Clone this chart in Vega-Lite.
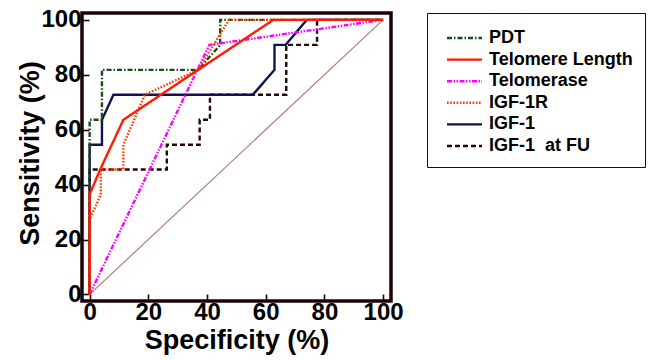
{
  "$schema": "https://vega.github.io/schema/vega-lite/v6.json",
  "autosize": {"type": "none"},
  "width": 309,
  "height": 288,
  "padding": {"left": 82, "top": 13, "right": 265, "bottom": 59},
  "background": "white",
  "config": {
    "view": {"stroke": "#1e0303", "strokeWidth": 3.5},
    "font": "Liberation Sans",
    "axis": {
      "domain": false,
      "grid": false,
      "labelFont": "Liberation Sans",
      "labelFontWeight": "bold",
      "labelFontSize": 24,
      "labelColor": "#000000",
      "titleFont": "Liberation Sans",
      "titleFontWeight": "bold",
      "titleFontSize": 27,
      "titleColor": "#000000",
      "tickColor": "#1a0000",
      "tickWidth": 1.6,
      "labelFlush": false,
      "labelOverlap": false
    },
    "legend": {
      "labelFont": "Liberation Sans",
      "labelFontWeight": "bold",
      "labelFontSize": 18,
      "labelColor": "#000000"
    }
  },
  "datasets": {
    "roc": [
      {"series": "IGF-1\u00a0 at FU", "i": 1, "spec": 0, "sens": 0},
      {"series": "IGF-1\u00a0 at FU", "i": 2, "spec": 0, "sens": 45.5},
      {"series": "IGF-1\u00a0 at FU", "i": 3, "spec": 26.3, "sens": 45.5},
      {"series": "IGF-1\u00a0 at FU", "i": 4, "spec": 26.3, "sens": 54.5},
      {"series": "IGF-1\u00a0 at FU", "i": 5, "spec": 37.5, "sens": 54.5},
      {"series": "IGF-1\u00a0 at FU", "i": 6, "spec": 37.5, "sens": 63.6},
      {"series": "IGF-1\u00a0 at FU", "i": 7, "spec": 41, "sens": 63.6},
      {"series": "IGF-1\u00a0 at FU", "i": 8, "spec": 41, "sens": 72.7},
      {"series": "IGF-1\u00a0 at FU", "i": 9, "spec": 67, "sens": 72.7},
      {"series": "IGF-1\u00a0 at FU", "i": 10, "spec": 67, "sens": 90.9},
      {"series": "IGF-1\u00a0 at FU", "i": 11, "spec": 77.5, "sens": 90.9},
      {"series": "IGF-1\u00a0 at FU", "i": 12, "spec": 77.5, "sens": 100},
      {"series": "IGF-1\u00a0 at FU", "i": 13, "spec": 100, "sens": 100},
      {"series": "IGF-1", "i": 1, "spec": 0, "sens": 0},
      {"series": "IGF-1", "i": 2, "spec": 0, "sens": 54.5},
      {"series": "IGF-1", "i": 3, "spec": 4.2, "sens": 54.5},
      {"series": "IGF-1", "i": 4, "spec": 4.2, "sens": 63.6},
      {"series": "IGF-1", "i": 5, "spec": 8.1, "sens": 72.7},
      {"series": "IGF-1", "i": 6, "spec": 55.6, "sens": 72.7},
      {"series": "IGF-1", "i": 7, "spec": 63, "sens": 81.8},
      {"series": "IGF-1", "i": 8, "spec": 63, "sens": 90.9},
      {"series": "IGF-1", "i": 9, "spec": 66.8, "sens": 90.9},
      {"series": "IGF-1", "i": 10, "spec": 74, "sens": 100},
      {"series": "IGF-1", "i": 11, "spec": 100, "sens": 100},
      {"series": "PDT", "i": 1, "spec": 0, "sens": 0},
      {"series": "PDT", "i": 2, "spec": 0, "sens": 63.6},
      {"series": "PDT", "i": 3, "spec": 4.2, "sens": 63.6},
      {"series": "PDT", "i": 4, "spec": 4.2, "sens": 81.8},
      {"series": "PDT", "i": 5, "spec": 37, "sens": 81.8},
      {"series": "PDT", "i": 6, "spec": 44.5, "sens": 90.9},
      {"series": "PDT", "i": 7, "spec": 44.5, "sens": 100},
      {"series": "PDT", "i": 8, "spec": 100, "sens": 100},
      {"series": "Telomerase", "i": 1, "spec": 0, "sens": 0},
      {"series": "Telomerase", "i": 2, "spec": 40.8, "sens": 90.9},
      {"series": "Telomerase", "i": 3, "spec": 100, "sens": 100},
      {"series": "IGF-1R", "i": 1, "spec": 0, "sens": 0},
      {"series": "IGF-1R", "i": 2, "spec": 0, "sens": 27.3},
      {"series": "IGF-1R", "i": 3, "spec": 3.8, "sens": 36.4},
      {"series": "IGF-1R", "i": 4, "spec": 3.8, "sens": 45.5},
      {"series": "IGF-1R", "i": 5, "spec": 11.5, "sens": 45.5},
      {"series": "IGF-1R", "i": 6, "spec": 11.5, "sens": 54.5},
      {"series": "IGF-1R", "i": 7, "spec": 18.8, "sens": 72.7},
      {"series": "IGF-1R", "i": 8, "spec": 37, "sens": 81.8},
      {"series": "IGF-1R", "i": 9, "spec": 47.5, "sens": 100},
      {"series": "IGF-1R", "i": 10, "spec": 100, "sens": 100},
      {"series": "Telomere Length", "i": 1, "spec": 0, "sens": 0},
      {"series": "Telomere Length", "i": 2, "spec": 0, "sens": 36.4},
      {"series": "Telomere Length", "i": 3, "spec": 3.6, "sens": 45.5},
      {"series": "Telomere Length", "i": 4, "spec": 11.5, "sens": 63.6},
      {"series": "Telomere Length", "i": 5, "spec": 37, "sens": 81.8},
      {"series": "Telomere Length", "i": 6, "spec": 62.6, "sens": 100},
      {"series": "Telomere Length", "i": 7, "spec": 100, "sens": 100}
    ],
    "ref": [
      {"spec": 0, "sens": 0},
      {"spec": 100, "sens": 100}
    ]
  },
  "layer": [
    {
      "data": {"name": "ref"},
      "mark": {"type": "line", "color": "#b87a72", "strokeWidth": 1.2},
      "encoding": {
        "x": {"field": "spec", "type": "quantitative"},
        "y": {"field": "sens", "type": "quantitative"}
      }
    },
    {
      "data": {"name": "roc"},
      "mark": {"type": "line", "strokeWidth": 2.4},
      "encoding": {
        "x": {
          "field": "spec",
          "type": "quantitative",
          "scale": {"domain": [-2.6, 102.7], "nice": false, "zero": false},
          "axis": {
            "values": [0,5,10,15,20,25,30,35,40,45,50,55,60,65,70,75,80,85,90,95,100],
            "labelExpr": "datum.value % 20 === 0 ? datum.label : ''",
            "tickSize": {"condition": {"test": "datum.value % 20 === 0", "value": -7}, "value": -4},
            "labelPadding": 6,
            "title": "Specificity (%)",
            "titleX": 154.5,
            "titleY": 39,
            "titleBaseline": "middle",
            "titleAnchor": "middle",
            "titleAlign": "center"
          }
        },
        "y": {
          "field": "sens",
          "type": "quantitative",
          "scale": {"domain": [-2.4, 102.5], "nice": false, "zero": false},
          "axis": {
            "values": [0,5,10,15,20,25,30,35,40,45,50,55,60,65,70,75,80,85,90,95,100],
            "labelExpr": "datum.value % 20 === 0 ? datum.label : ''",
            "tickSize": {"condition": {"test": "datum.value % 20 === 0", "value": -7}, "value": -4},
            "labelPadding": 8,
            "title": "Sensitivity (%)",
            "titleX": -52,
            "titleY": 140,
            "titleAngle": -90,
            "titleBaseline": "middle",
            "titleAlign": "center",
            "titleAnchor": "middle"
          }
        },
        "order": {"field": "i", "type": "quantitative"},
        "color": {
          "field": "series",
          "type": "nominal",
          "scale": {
            "domain": ["PDT", "Telomere Length", "Telomerase", "IGF-1R", "IGF-1", "IGF-1\u00a0 at FU"],
            "range": ["#1c4a1c", "#ff1a00", "#ff00ff", "#ff3b00", "#0f1450", "#2a0808"]
          },
          "legend": {
            "title": " ",
            "titleOrient": "top",
            "titleFontSize": 2,
            "titlePadding": 2,
            "orient": "none",
            "legendX": 345,
            "legendY": 0,
            "symbolType": "M-0.2,0H6.8",
            "symbolSize": 100,
            "symbolStrokeWidth": 2.4,
            "symbolFillColor": "transparent",
            "labelOffset": 32,
            "rowPadding": 3.6,
            "padding": 12,
            "strokeColor": "#2a0505"
          }
        },
        "strokeDash": {
          "field": "series",
          "type": "nominal",
          "scale": {
            "domain": ["PDT", "Telomere Length", "Telomerase", "IGF-1R", "IGF-1", "IGF-1\u00a0 at FU"],
            "range": [[5, 2, 1.5, 2], [1, 0], [5, 1.5, 1.5, 1.5, 1.5, 1.5], [1.6, 1.6], [1, 0], [5, 3]]
          },
          "legend": {
            "title": " ",
            "titleOrient": "top",
            "titleFontSize": 2,
            "titlePadding": 2,
            "orient": "none",
            "legendX": 345,
            "legendY": 0,
            "symbolType": "M-0.2,0H6.8",
            "symbolSize": 100,
            "symbolStrokeWidth": 2.4,
            "symbolFillColor": "transparent",
            "labelOffset": 32,
            "rowPadding": 3.6,
            "padding": 12,
            "strokeColor": "#2a0505"
          }
        }
      }
    }
  ]
}
